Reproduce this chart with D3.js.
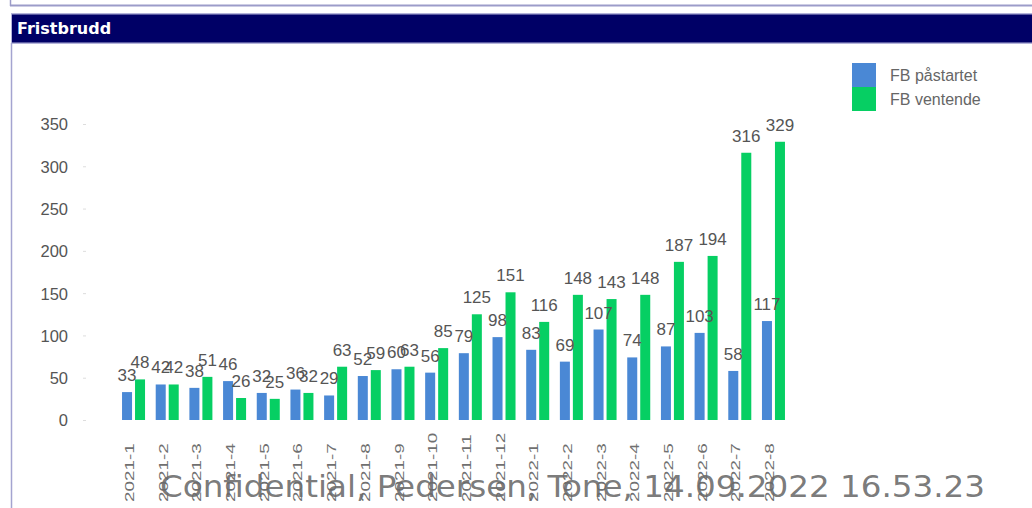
<html>
<head>
<meta http-equiv="Content-Type" content="text/html;charset=utf-8"/>
<script type="text/javascript" src="https://d3js.org/d3.v7.min.js"></script>
<style type="text/css">
body { margin: 0; background: #fff; }
svg { display: block; }
.tick text { font-family: "Liberation Sans", Arial, sans-serif; fill: #555; }
</style>
</head>
<body>
<div id="body"></div>
<script type="text/javascript">

// data
var months = ["2021-1","2021-2","2021-3","2021-4","2021-5","2021-6","2021-7","2021-8","2021-9","2021-10",
              "2021-11","2021-12","2022-1","2022-2","2022-3","2022-4","2022-5","2022-6","2022-7","2022-8"];
var seriesNames = ["FB påstartet", "FB ventende"];
var startet  = [33, 42, 38, 46, 32, 36, 29, 52, 60, 56, 79, 98, 83, 69, 107, 74, 87, 103, 58, 117];
var ventende = [48, 42, 51, 26, 25, 32, 63, 59, 63, 85, 125, 151, 116, 148, 143, 148, 187, 194, 316, 329];
var yTicks = [0, 50, 100, 150, 200, 250, 300, 350];
var colors = ["#4a88d5", "#06cf63"];

var w = 1032, h = 508;

var svg = d3.select("#body").append("svg")
    .attr("width", w)
    .attr("height", h);

// frame pieces of the report panel
svg.append("line").attr("x1", 10).attr("x2", w).attr("y1", 5.5).attr("y2", 5.5)
    .attr("stroke", "#9c9cc9").attr("stroke-width", 2);
svg.append("line").attr("x1", 10.5).attr("x2", 10.5).attr("y1", 0).attr("y2", 6)
    .attr("stroke", "#9c9cc9").attr("stroke-width", 1.5);
svg.append("rect").attr("x", 11).attr("y", 13).attr("width", w - 11).attr("height", 31)
    .attr("fill", "#b4b4da");
svg.append("rect").attr("x", 12).attr("y", 14.5).attr("width", w - 12).attr("height", 28)
    .attr("fill", "#000066");
svg.append("line").attr("x1", 11.5).attr("x2", 11.5).attr("y1", 43).attr("y2", h)
    .attr("stroke", "#a4a4d0").attr("stroke-width", 1.5);
svg.append("text")
    .attr("x", 17).attr("y", 34)
    .attr("fill", "#fff")
    .style("font-family", "DejaVu Sans, Verdana, sans-serif")
    .style("font-weight", "bold")
    .style("font-size", "16px")
    .text("Fristbrudd");

var y = d3.scaleLinear().domain([0, 350]).range([420, 124]);

var x0 = d3.scaleBand().domain(months).range([116.7, 790.3])
    .paddingInner(0.317).paddingOuter(0.1584);
var x1 = d3.scaleBand().domain(seriesNames).range([0, x0.bandwidth()])
    .paddingInner(0.23);

var rows = months.map(function(m, i) {
    return { month: m, values: [startet[i], ventende[i]] };
});

// y axis, no domain line, faint tick marks
var yAxis = svg.append("g")
    .attr("transform", "translate(86,0)")
    .call(d3.axisLeft(y).tickValues(yTicks).tickSize(3).tickPadding(15));
yAxis.select(".domain").remove();
yAxis.selectAll(".tick line").attr("stroke", "#ddd");
yAxis.selectAll(".tick text").style("font-size", "16.5px").attr("dy", "0.36em");

// x labels, rotated
var xAxis = svg.append("g")
    .attr("transform", "translate(-4,420)")
    .call(d3.axisBottom(x0).tickSize(0));
xAxis.select(".domain").remove();
xAxis.selectAll(".tick text")
    .style("font-size", "13px")
    .style("fill", "#707070")
    .attr("text-anchor", "start")
    .attr("y", 0)
    .attr("x", 0)
    .attr("transform", "translate(0,82) rotate(-90) scale(1.45,1)")
    .attr("dy", "0.35em");

var groups = svg.selectAll("g.month")
    .data(rows)
    .enter().append("g")
    .attr("class", "month")
    .attr("transform", function(d) { return "translate(" + x0(d.month) + ",0)"; });

groups.selectAll("rect")
    .data(function(d) { return d.values.map(function(v, k) { return { k: k, v: v }; }); })
    .enter().append("rect")
    .attr("x", function(d) { return x1(seriesNames[d.k]); })
    .attr("width", x1.bandwidth())
    .attr("y", function(d) { return y(d.v); })
    .attr("height", function(d) { return y(0) - y(d.v); })
    .attr("fill", function(d) { return colors[d.k]; });

groups.selectAll("text.val")
    .data(function(d) { return d.values.map(function(v, k) { return { k: k, v: v }; }); })
    .enter().append("text")
    .attr("class", "val")
    .attr("x", function(d) { return x1(seriesNames[d.k]) + x1.bandwidth() / 2; })
    .attr("y", function(d) { return y(d.v) - 11; })
    .attr("text-anchor", "middle")
    .style("font-family", "Liberation Sans, Arial, sans-serif")
    .style("font-size", "17px")
    .style("fill", "#555")
    .text(function(d) { return d.v; });

// legend
var legend = svg.append("g").attr("transform", "translate(852,63)");
seriesNames.forEach(function(name, k) {
    legend.append("rect")
        .attr("x", 0).attr("y", k * 24)
        .attr("width", 24).attr("height", 24)
        .attr("fill", colors[k]);
    legend.append("text")
        .attr("x", 38).attr("y", k * 24 + 12)
        .attr("dy", "0.35em")
        .style("font-family", "Liberation Sans, Arial, sans-serif")
        .style("font-size", "16px")
        .style("fill", "#666")
        .text(name);
});

// watermark
svg.append("text")
    .attr("x", 160).attr("y", 497)
    .attr("textLength", 825)
    .attr("lengthAdjust", "spacingAndGlyphs")
    .style("font-family", "DejaVu Sans, Verdana, sans-serif")
    .style("font-size", "31px")
    .style("fill", "#6a6a6a")
    .style("fill-opacity", 0.9)
    .text("Confidential, Pedersen, Tone, 14.09.2022 16.53.23");

</script>
</body>
</html>
